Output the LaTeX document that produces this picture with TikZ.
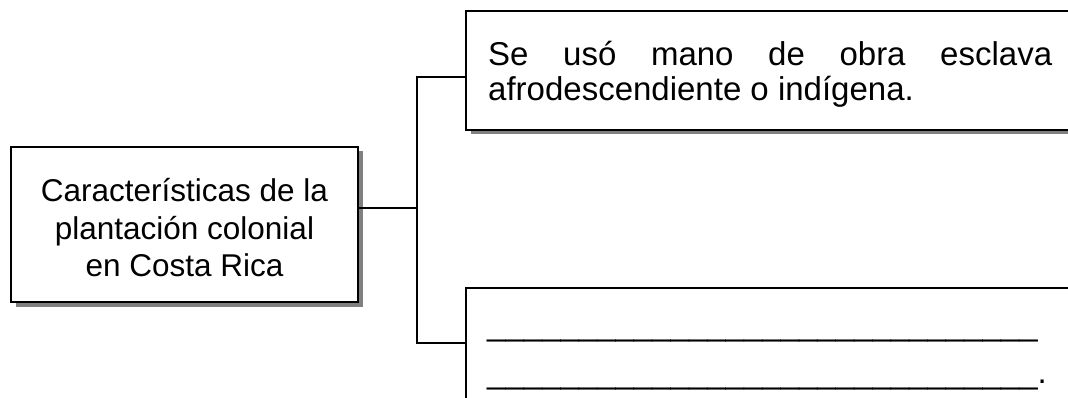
\documentclass[tikz,border=0pt]{standalone}
\usepackage{fontspec}
\setmainfont{Liberation Sans}
\usetikzlibrary{shadows}
\tikzset{
  box/.style={draw=black, line width=2.3pt, fill=white, inner sep=0pt,
    drop shadow={shadow xshift=4.5pt, shadow yshift=-4.5pt, fill=black!50, opacity=1}},
  conn/.style={draw=black, line width=1.4pt},
  txt/.style={inner sep=0pt, font=\fontsize{31.5}{37.5}\selectfont},
  rtxt/.style={inner sep=0pt, font=\fontsize{33}{36}\selectfont},
}
\newcommand{\blankline}{\_\_\_\_\_\_\_\_\_\_\_\_\_\_\_\_\_\_\_\_\_\_\_\_\_\_\_\_\_\_}
\begin{document}
\begin{tikzpicture}[x=1pt,y=1pt]
\useasboundingbox (0,0) rectangle (1068,-398);
\clip (0,0) rectangle (1068,-398);
% boxes
\node[box, minimum width=347pt, minimum height=155pt] (main) at (184.5,-224.5) {};
\node[txt, align=center] (maintext) at (184.5,-228) {Características de la\\plantación colonial\\en Costa Rica};
\node[box, minimum width=640pt, minimum height=119pt] (top) at (786,-70.5) {};
\node[box, minimum width=640pt, minimum height=140pt] (bot) at (786,-358) {};
% texts
\node[rtxt, anchor=base west] (t1) at (488,-66) {\makebox[564pt][s]{Se usó mano de obra esclava}};
\node[rtxt, anchor=base west] (t2) at (488,-101) {afrodescendiente o indígena.};
\node[rtxt, anchor=base west] (b1) at (487,-335) {\blankline};
\node[rtxt, anchor=base west] (b2) at (487,-383) {\blankline.};
% connectors
\coordinate (jm) at (417,-208);
\coordinate (ja) at (417,-77);
\coordinate (jb) at (417,-343);
\draw[conn] (main.east |- jm) -- (jm);
\draw[conn] (top.west |- ja) -- (ja) -- (jb) -- (bot.west |- jb);
\end{tikzpicture}
\end{document}
